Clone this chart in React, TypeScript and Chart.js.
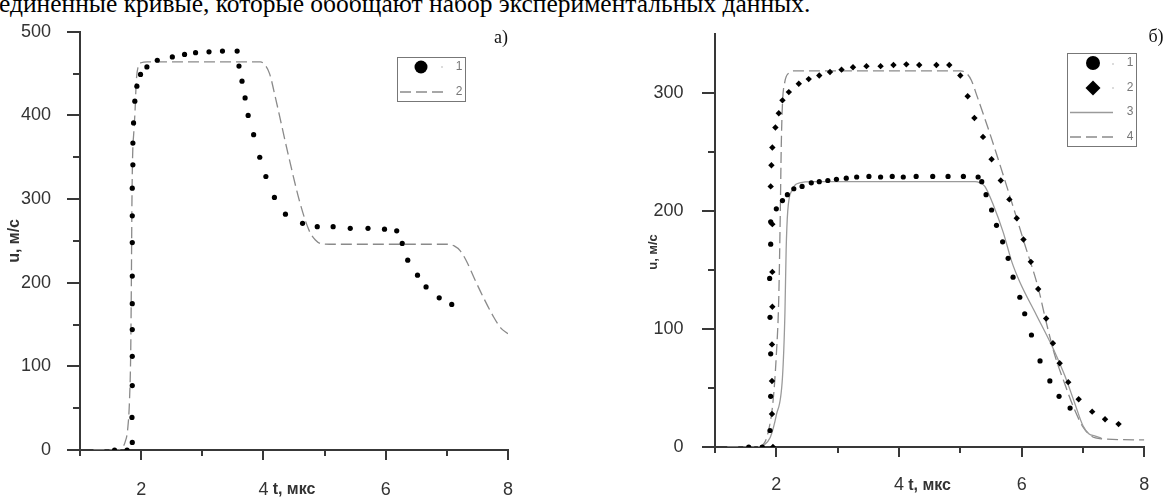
import React, { useEffect, useRef } from 'react';
import { Chart, registerables } from 'chart.js';

Chart.register(...registerables);

// ---------- texts ----------
const CAPTION = 'единенные кривые, которые обобщают набор экспериментальных данных.';
const X_TITLE = 't, мкс';
const Y_TITLE = 'u, м/с';
const PANEL_A_LABEL = 'а)';
const PANEL_B_LABEL = 'б)';
const LEGEND_A = ['1', '2'];
const LEGEND_B = ['1', '2', '3', '4'];

// ---------- axes ----------
const X_MIN = 1;
const X_MAX = 8;
const xMajorTicks = [2, 4, 6, 8];
const xMinorTicks = [1, 3, 5, 7];
const aYMax = 500;
const aYMajorTicks = [0, 100, 200, 300, 400, 500];
const aYMinorTicks = [50, 150, 250, 350, 450];
const bYMax = 350;
const bYMajorTicks = [0, 100, 200, 300];
const bYMinorTicks = [50, 150, 250];

// ---------- panel a) data: [t, u] ----------
const aSeries1: [number, number][] = [
  [1.565, 0], [1.77, 0], [1.855, 9], [1.85, 39], [1.855, 77], [1.855, 112], [1.855, 144],
  [1.855, 175], [1.855, 208], [1.855, 248], [1.855, 280], [1.855, 313], [1.865, 341],
  [1.865, 367], [1.876, 391], [1.897, 417], [1.93, 435], [1.99, 449], [2.094, 458],
  [2.264, 466], [2.51, 470], [2.71, 473], [2.89, 475], [3.11, 476], [3.33, 477], [3.57, 477],
  [3.6, 459], [3.65, 441], [3.7, 421], [3.75, 400], [3.84, 377], [3.94, 350], [4.04, 327],
  [4.18, 302], [4.36, 282], [4.64, 271], [4.88, 267], [5.14, 267], [5.42, 265], [5.71, 265],
  [5.98, 264], [6.18, 262], [6.27, 247], [6.36, 227], [6.52, 209], [6.66, 195], [6.875, 182],
  [7.08, 174],
];
const aSeries2: [number, number][] = [
  [1.22, 0], [1.6, 0], [1.68, 2], [1.74, 10], [1.78, 25], [1.81, 60], [1.83, 120], [1.84, 200],
  [1.85, 300], [1.86, 350], [1.88, 380], [1.9, 405], [1.92, 440], [1.95, 458], [2.0, 463],
  [2.1, 464], [3.0, 464], [3.95, 464], [4.02, 461], [4.1, 450], [4.2, 420], [4.4, 355],
  [4.6, 295], [4.75, 262], [4.85, 251], [4.95, 246.5], [5.2, 246], [6.5, 246], [7.0, 246],
  [7.12, 244], [7.22, 238], [7.32, 226], [7.45, 205], [7.6, 182], [7.75, 161], [7.88, 146],
  [8.0, 139],
];

// ---------- panel б) data: [t, u] ----------
const bSeries1: [number, number][] = [
  [1.55, 0], [1.77, 0], [1.897, 14], [1.908, 43], [1.908, 79], [1.897, 110], [1.891, 143],
  [1.908, 172], [1.908, 191], [2.0, 202], [2.1, 209], [2.18, 214], [2.285, 219], [2.42, 221],
  [2.57, 224], [2.7, 225], [2.84, 226], [2.98, 227], [3.14, 228], [3.31, 229], [3.51, 229.5],
  [3.7, 229], [3.89, 229.5], [4.07, 229], [4.28, 229.5], [4.55, 229.5], [4.8, 229.5],
  [5.05, 229.5], [5.29, 229], [5.35, 225], [5.42, 214], [5.51, 201], [5.59, 188], [5.69, 174],
  [5.78, 160], [5.86, 144], [5.97, 127], [6.05, 113], [6.16, 95], [6.3, 73], [6.46, 56],
  [6.61, 43], [6.79, 33],
];
const bSeries2: [number, number][] = [
  [1.945, 0], [1.929, 28], [1.929, 56], [1.929, 87], [1.935, 119], [1.935, 148.5], [1.935, 189],
  [1.908, 221], [1.92, 239], [1.935, 254], [1.985, 271], [2.04, 283], [2.1, 294], [2.204, 301],
  [2.366, 308], [2.528, 312], [2.7, 315], [2.875, 318], [3.063, 320], [3.25, 322], [3.47, 323],
  [3.7, 323], [3.91, 324], [4.12, 324.5], [4.33, 324], [4.61, 324], [4.82, 324], [5.0, 315],
  [5.12, 297.5], [5.23, 279], [5.37, 263], [5.51, 244], [5.66, 226], [5.8, 210], [5.92, 194],
  [6.03, 176], [6.15, 157], [6.27, 134], [6.4, 109], [6.51, 88], [6.62, 71], [6.76, 55],
  [6.93, 40.5], [7.15, 30], [7.36, 23.5], [7.58, 19.4],
];
const bSeries3: [number, number][] = [
  [1.7, 0], [1.78, 1], [1.9, 8], [2.0, 27], [2.1, 59], [2.14, 113], [2.16, 167], [2.186, 200],
  [2.26, 218], [2.38, 224], [2.6, 225], [5.24, 225], [5.32, 224], [5.4, 221], [5.54, 205],
  [5.7, 182], [5.84, 157], [5.97, 140], [6.24, 112], [6.51, 84], [6.7, 61], [6.86, 38],
  [7.0, 18], [7.1, 11], [7.19, 9.5], [7.3, 7.6],
];
const bSeries4: [number, number][] = [
  [1.2, 0], [1.72, 0], [1.8, 3], [1.86, 11], [1.945, 38], [2.0, 78], [2.04, 127], [2.065, 200],
  [2.08, 254], [2.1, 291], [2.14, 310], [2.2, 317], [2.3, 319], [5.0, 319], [5.1, 317],
  [5.18, 311], [5.27, 298], [5.5, 263], [5.8, 214], [6.05, 172], [6.27, 135], [6.4, 106],
  [6.54, 78], [6.7, 54], [6.86, 32], [7.0, 17], [7.13, 9.5], [7.3, 7], [8.0, 6],
];

// ---------- styling ----------
const SANS = '"Liberation Sans", Arial, sans-serif';
const SERIF = '"Liberation Serif", "Times New Roman", serif';
const AXIS_COLOR = '#383838';
const TICK_COLOR = '#333333';
const DASH_COLOR = '#8a8a8a';
const SOLID_COLOR = '#9a9a9a';
const LEGEND_COLOR = '#777777';
const CANVAS_H = 510;

const toXY = (arr: [number, number][]) => arr.map(([x, y]) => ({ x, y }));

function drawAxisTicks(chart: any, yMajor: number[], yMinor: number[]) {
  const { ctx, chartArea, scales } = chart;
  const xs = scales.x;
  const ys = scales.y;
  ctx.save();
  ctx.strokeStyle = AXIS_COLOR;
  ctx.lineWidth = 2;
  ctx.lineCap = 'butt';
  ctx.beginPath();
  const b = chartArea.bottom;
  const l = chartArea.left;
  xMajorTicks.forEach((v) => {
    const p = Math.round(xs.getPixelForValue(v));
    ctx.moveTo(p, b);
    ctx.lineTo(p, b + 10);
  });
  xMinorTicks.forEach((v) => {
    const p = Math.round(xs.getPixelForValue(v));
    ctx.moveTo(p, b);
    ctx.lineTo(p, b + 6);
  });
  yMajor.forEach((v) => {
    const p = Math.round(ys.getPixelForValue(v));
    ctx.moveTo(l, p);
    ctx.lineTo(l - 13, p);
  });
  yMinor.forEach((v) => {
    const p = Math.round(ys.getPixelForValue(v));
    ctx.moveTo(l, p);
    ctx.lineTo(l - 7, p);
  });
  ctx.stroke();
  ctx.restore();
}

function legendText(ctx: CanvasRenderingContext2D, t: string, x: number, y: number) {
  ctx.fillStyle = LEGEND_COLOR;
  ctx.font = `12px ${SANS}`;
  ctx.textAlign = 'center';
  ctx.textBaseline = 'middle';
  ctx.fillText(t, x, y);
}

function tinyDot(ctx: CanvasRenderingContext2D, x: number, y: number) {
  ctx.fillStyle = '#b0b0b0';
  ctx.beginPath();
  ctx.arc(x, y, 0.8, 0, Math.PI * 2);
  ctx.fill();
}

const panelADecor = {
  id: 'panelADecor',
  afterDraw(chart: any) {
    drawAxisTicks(chart, aYMajorTicks, aYMinorTicks);
    const ctx: CanvasRenderingContext2D = chart.ctx;
    ctx.save();
    ctx.fillStyle = '#111';
    ctx.font = `18px ${SERIF}`;
    ctx.textAlign = 'center';
    ctx.textBaseline = 'middle';
    ctx.fillText(PANEL_A_LABEL, 501, 38);
    // legend
    ctx.strokeStyle = LEGEND_COLOR;
    ctx.lineWidth = 1;
    ctx.strokeRect(397.5, 57.5, 68, 44);
    ctx.fillStyle = '#000';
    ctx.beginPath();
    ctx.arc(421, 67, 6.5, 0, Math.PI * 2);
    ctx.fill();
    tinyDot(ctx, 442, 67);
    legendText(ctx, LEGEND_A[0], 459, 67);
    ctx.strokeStyle = DASH_COLOR;
    ctx.lineWidth = 1.3;
    ctx.setLineDash([11, 5]);
    ctx.beginPath();
    ctx.moveTo(400, 92);
    ctx.lineTo(444, 92);
    ctx.stroke();
    ctx.setLineDash([]);
    legendText(ctx, LEGEND_A[1], 459, 92);
    ctx.restore();
  },
};

const panelBDecor = {
  id: 'panelBDecor',
  afterDraw(chart: any) {
    drawAxisTicks(chart, bYMajorTicks, bYMinorTicks);
    const ctx: CanvasRenderingContext2D = chart.ctx;
    ctx.save();
    // y title
    ctx.save();
    ctx.translate(68, 252);
    ctx.rotate(-Math.PI / 2);
    ctx.fillStyle = TICK_COLOR;
    ctx.font = `bold 13px ${SANS}`;
    ctx.textAlign = 'center';
    ctx.textBaseline = 'middle';
    ctx.fillText(Y_TITLE, 0, 0);
    ctx.restore();
    // panel label
    ctx.fillStyle = '#111';
    ctx.font = `18px ${SERIF}`;
    ctx.textAlign = 'center';
    ctx.textBaseline = 'middle';
    ctx.fillText(PANEL_B_LABEL, 571, 37);
    // legend
    ctx.strokeStyle = LEGEND_COLOR;
    ctx.lineWidth = 1;
    ctx.strokeRect(482.5, 53.5, 69, 93);
    ctx.fillStyle = '#000';
    ctx.beginPath();
    ctx.arc(508, 63, 7, 0, Math.PI * 2);
    ctx.fill();
    tinyDot(ctx, 528, 64);
    legendText(ctx, LEGEND_B[0], 545, 63);
    ctx.fillStyle = '#000';
    ctx.beginPath();
    ctx.moveTo(508, 80.5);
    ctx.lineTo(515.5, 88);
    ctx.lineTo(508, 95.5);
    ctx.lineTo(500.5, 88);
    ctx.closePath();
    ctx.fill();
    tinyDot(ctx, 528, 88);
    legendText(ctx, LEGEND_B[1], 545, 88);
    ctx.strokeStyle = SOLID_COLOR;
    ctx.lineWidth = 1.3;
    ctx.beginPath();
    ctx.moveTo(485, 112.5);
    ctx.lineTo(528, 112.5);
    ctx.stroke();
    legendText(ctx, LEGEND_B[2], 545, 112);
    ctx.strokeStyle = DASH_COLOR;
    ctx.setLineDash([11, 5]);
    ctx.beginPath();
    ctx.moveTo(485, 137);
    ctx.lineTo(529, 137);
    ctx.stroke();
    ctx.setLineDash([]);
    legendText(ctx, LEGEND_B[3], 545, 137);
    ctx.restore();
  },
};

function buildScales(opts: {
  yMax: number;
  yMajor: number[];
  yWidth: number;
  xHeight: number;
  xPad: number;
  yPad: number;
  xTitlePad: number;
  showYTitle: boolean;
  yTitlePad: number;
}) {
  return {
    x: {
      type: 'linear',
      min: X_MIN,
      max: X_MAX,
      afterFit: (s: any) => {
        s.height = opts.xHeight;
      },
      grid: { display: false },
      border: { display: true, color: AXIS_COLOR, width: 2 },
      ticks: {
        stepSize: 1,
        autoSkip: false,
        maxRotation: 0,
        padding: opts.xPad,
        color: TICK_COLOR,
        font: { family: SANS, size: 18 },
        callback: (v: any) => (xMajorTicks.includes(Number(v)) ? String(v) : ''),
      },
      title: {
        display: true,
        text: X_TITLE,
        color: TICK_COLOR,
        font: { family: SANS, size: 16, weight: 'bold' },
        padding: { top: 0, bottom: opts.xTitlePad },
      },
    },
    y: {
      type: 'linear',
      min: 0,
      max: opts.yMax,
      afterFit: (s: any) => {
        s.width = opts.yWidth;
      },
      grid: { display: false },
      border: { display: true, color: AXIS_COLOR, width: 2 },
      ticks: {
        stepSize: 50,
        autoSkip: false,
        padding: opts.yPad,
        color: TICK_COLOR,
        font: { family: SANS, size: 18 },
        callback: (v: any) => (opts.yMajor.includes(Number(v)) ? String(v) : ''),
      },
      title: {
        display: opts.showYTitle,
        text: Y_TITLE,
        color: TICK_COLOR,
        font: { family: SANS, size: 16, weight: 'bold' },
        padding: { top: opts.yTitlePad, bottom: 0 },
      },
    },
  };
}

function configA(): any {
  return {
    type: 'scatter',
    data: {
      datasets: [
        {
          label: LEGEND_A[0],
          data: toXY(aSeries1),
          showLine: false,
          pointStyle: 'circle',
          pointRadius: 2.6,
          backgroundColor: '#000',
          borderWidth: 0,
        },
        {
          label: LEGEND_A[1],
          data: toXY(aSeries2),
          showLine: true,
          pointRadius: 0,
          borderColor: DASH_COLOR,
          borderWidth: 1.3,
          borderDash: [11, 5],
          cubicInterpolationMode: 'monotone',
          fill: false,
        },
      ],
    },
    options: {
      responsive: false,
      animation: false,
      events: [],
      layout: { padding: { left: 0, top: 22, right: 77, bottom: 0 } },
      plugins: { legend: { display: false }, tooltip: { enabled: false } },
      scales: buildScales({
        yMax: aYMax,
        yMajor: aYMajorTicks,
        yWidth: 80,
        xHeight: CANVAS_H - 450,
        xPad: 21,
        yPad: 21,
        xTitlePad: 10.9,
        showYTitle: true,
        yTitlePad: 5.4,
      }),
    },
    plugins: [panelADecor],
  };
}

function configB(): any {
  return {
    type: 'scatter',
    data: {
      datasets: [
        {
          label: LEGEND_B[0],
          data: toXY(bSeries1),
          showLine: false,
          pointStyle: 'circle',
          pointRadius: 2.6,
          backgroundColor: '#000',
          borderWidth: 0,
        },
        {
          label: LEGEND_B[1],
          data: toXY(bSeries2),
          showLine: false,
          pointStyle: 'rectRot',
          pointRadius: 3.2,
          backgroundColor: '#000',
          borderWidth: 0,
        },
        {
          label: LEGEND_B[2],
          data: toXY(bSeries3),
          showLine: true,
          pointRadius: 0,
          borderColor: SOLID_COLOR,
          borderWidth: 1.3,
          cubicInterpolationMode: 'monotone',
          fill: false,
        },
        {
          label: LEGEND_B[3],
          data: toXY(bSeries4),
          showLine: true,
          pointRadius: 0,
          borderColor: DASH_COLOR,
          borderWidth: 1.3,
          borderDash: [11, 5],
          cubicInterpolationMode: 'monotone',
          fill: false,
        },
      ],
    },
    options: {
      responsive: false,
      animation: false,
      events: [],
      layout: { padding: { left: 0, top: 15, right: 22, bottom: 0 } },
      plugins: { legend: { display: false }, tooltip: { enabled: false } },
      scales: buildScales({
        yMax: bYMax,
        yMajor: bYMajorTicks,
        yWidth: 130,
        xHeight: CANVAS_H - 447,
        xPad: 19.7,
        yPad: 23.5,
        xTitlePad: 14.4,
        showYTitle: false,
        yTitlePad: 0,
      }),
    },
    plugins: [panelBDecor],
  };
}

function ChartCanvas({ build, left, width }: { build: () => any; left: number; width: number }) {
  const ref = useRef<HTMLCanvasElement | null>(null);
  useEffect(() => {
    if (!ref.current) return;
    const chart = new Chart(ref.current, build());
    return () => chart.destroy();
  }, [build]);
  return (
    <canvas
      ref={ref}
      width={width}
      height={CANVAS_H}
      style={{ position: 'absolute', left, top: 0, width, height: CANVAS_H, display: 'block' }}
    />
  );
}

export default function App() {
  return (
    <div
      style={{
        position: 'fixed',
        left: 0,
        top: 0,
        width: 1169,
        height: 497,
        overflow: 'hidden',
        background: '#fff',
      }}
    >
      <div
        style={{
          position: 'absolute',
          left: -1,
          top: -9.5,
          fontFamily: SERIF,
          fontSize: 25.5,
          lineHeight: '25.5px',
          whiteSpace: 'nowrap',
          color: '#000',
        }}
      >
        {CAPTION}
      </div>
      <ChartCanvas build={configA} left={0} width={585} />
      <ChartCanvas build={configB} left={585} width={584} />
    </div>
  );
}
